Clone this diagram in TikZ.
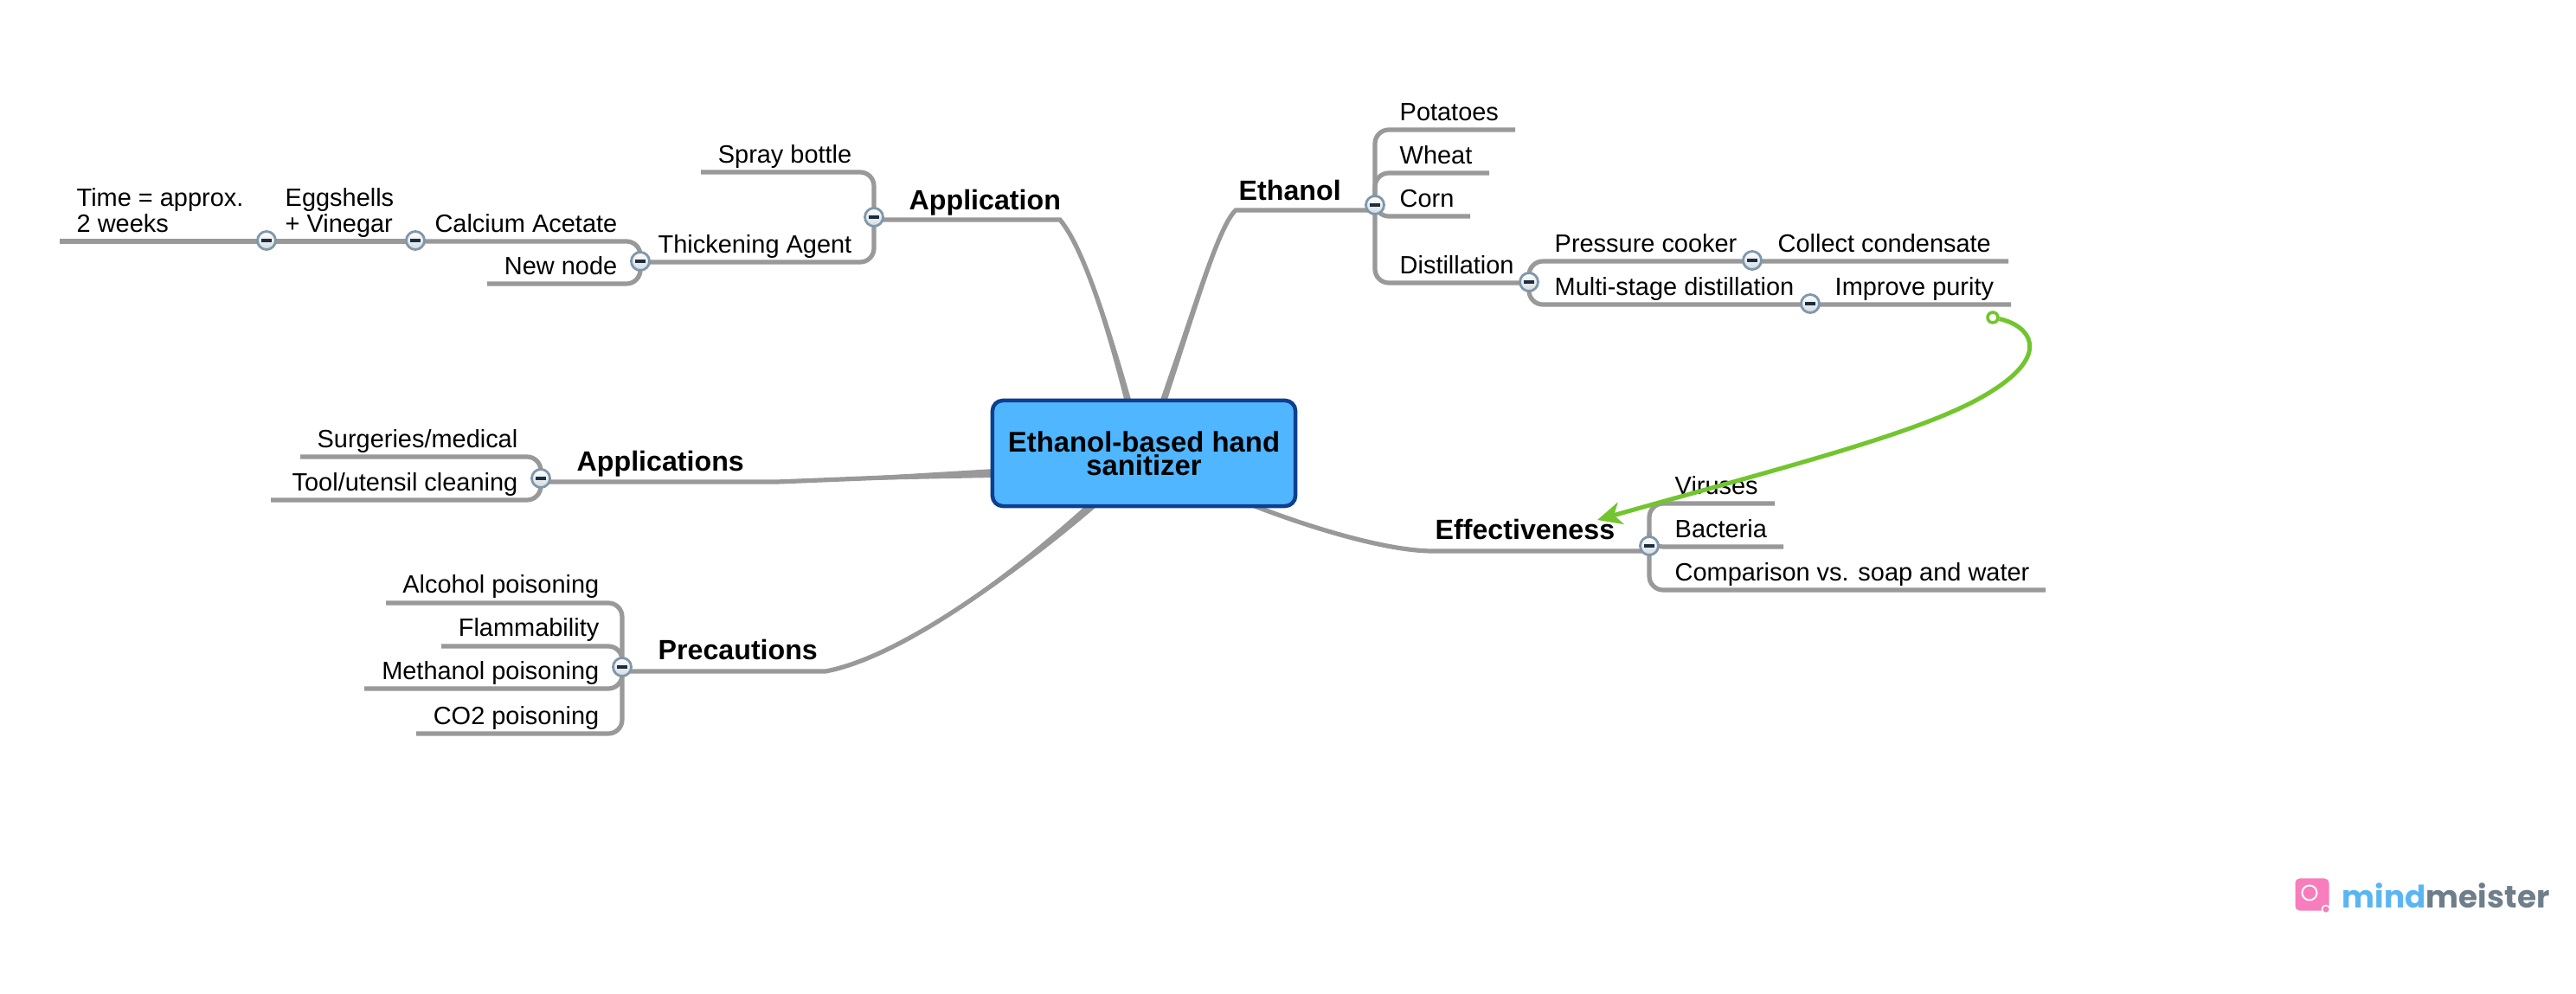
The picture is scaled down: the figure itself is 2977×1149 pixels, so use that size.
\documentclass[tikz,border=0pt]{standalone}
\usepackage{fontspec}
\setmainfont{Liberation Sans}
\newfontfamily\logofont{Poppins}
\usetikzlibrary{arrows.meta,backgrounds,calc}
\definecolor{rulegray}{HTML}{999999}
\definecolor{centerfill}{HTML}{4FB6FF}
\definecolor{centerline}{HTML}{0E3F8F}
\definecolor{linkgreen}{HTML}{72C52E}
\definecolor{togline}{HTML}{7F97AA}
\definecolor{togdark}{HTML}{1C2E3E}
\definecolor{logoblue}{HTML}{5AB6F2}
\definecolor{logogray}{HTML}{6E7E8A}
\definecolor{logopink}{HTML}{F77DBD}
\tikzset{
  x=0.01cm,y=-0.01cm,
  leafR/.style={inner sep=0pt,anchor=base west,font=\fontsize{8.23}{8.53}\selectfont,align=left},
  leafL/.style={inner sep=0pt,anchor=base east,font=\fontsize{8.23}{8.53}\selectfont},
  topicR/.style={inner sep=0pt,anchor=base west,font=\fontsize{9.15}{10}\selectfont\bfseries},
  rootbox/.style={draw=centerline,fill=centerfill,line width=0.045cm,rounded corners=0.12cm,
    minimum width=3.5cm,minimum height=1.22cm,inner sep=0pt,align=center,
    font=\fontsize{9.35}{7.7}\selectfont\bfseries},
  branch/.style={draw=rulegray,line width=0.052cm,rounded corners=0.16cm},
  wedge/.style={fill=rulegray,draw=none},
  toggle/.style={circle,draw=togline,line width=0.028cm,minimum size=0.21cm,inner sep=0pt,
    top color=white,bottom color=togline!35,
    path picture={\draw[togdark,line width=0.032cm]
      ([xshift=-0.06cm]path picture bounding box.center) -- ([xshift=0.06cm]path picture bounding box.center);}},
  crosslink/.style={draw=linkgreen,line width=0.05cm},
}
\begin{document}
\begin{tikzpicture}
% central node
\node[rootbox] (root) at (1322,524) {Ethanol-based hand\\sanitizer};
% topics
\node[topicR] (ethanol) at (1431,232) {Ethanol};
\node[topicR] (application) at (1050,243) {Application};
\node[topicR] (applications) at (666,545) {Applications};
\node[topicR] (precautions) at (760,763) {Precautions};
\node[topicR] (effectiveness) at (1658,624) {Effectiveness};
% toggles
\node[toggle] (tEth) at (1589,237) {};
\node[toggle] (tDis) at (1767,326) {};
\node[toggle] (tPre) at (2025,301) {};
\node[toggle] (tMul) at (2092,351) {};
\node[toggle] (tEff) at (1906,631) {};
\node[toggle] (tApn) at (1010,251) {};
\node[toggle] (tThi) at (740,302) {};
\node[toggle] (tCal) at (480,278) {};
\node[toggle] (tEgg) at (308,278) {};
\node[toggle] (tAps) at (625,553) {};
\node[toggle] (tPrc) at (719,771) {};
% leaves on the right
\node[leafR] (potatoes) at (1617,140) {Potatoes};
\node[leafR] (wheat) at (1617,190) {Wheat};
\node[leafR] (corn) at (1617,240) {Corn};
\node[leafR] (distillation) at (1617,317) {Distillation};
\node[leafR] (pressure) at (1796,292) {Pressure cooker};
\node[leafR] (collect) at (2054,292) {Collect condensate};
\node[leafR] (multi) at (1796,342) {Multi-stage distillation};
\node[leafR] (improve) at (2120,342) {Improve purity};
\node[leafR] (viruses) at (1935,572) {Viruses};
\node[leafR] (bacteria) at (1935,622) {Bacteria};
\node[leafR] (comparison) at (1935,672) {Comparison vs. soap and water};
% leaves on the left
\node[leafL] (spray) at (985,189) {Spray bottle};
\node[leafL] (thick) at (985,293) {Thickening Agent};
\node[leafL] (calcium) at (714,269) {Calcium Acetate};
\node[leafL] (newnode) at (714,318) {New node};
\node[leafR] (egg) at (329,269) {Eggshells\\+ Vinegar};
\node[leafR] (time) at (88,269) {Time = approx.\\2 weeks};
\node[leafL] (surgeries) at (599,518) {Surgeries/medical};
\node[leafL] (tool) at (599,568) {Tool/utensil cleaning};
\node[leafL] (alcohol) at (693,686) {Alcohol poisoning};
\node[leafL] (flamm) at (693,736) {Flammability};
\node[leafL] (methanol) at (693,786) {Methanol poisoning};
\node[leafL] (co2) at (693,838) {CO2 poisoning};
% rule ends
\coordinate (ePot) at (1751,150);
\coordinate (eWhe) at (1721,200);
\coordinate (eCor) at (1699,250);
\coordinate (jDis) at (1767,327);
\coordinate (jPre) at (2025,302);
\coordinate (ePre) at (2321,302);
\coordinate (jMul) at (2092,352);
\coordinate (eMul) at (2324,352);
\coordinate (eVir) at (2051,582);
\coordinate (eBac) at (2061,632);
\coordinate (eCom) at (2364,682);
\coordinate (jEff) at (1906,637);
\coordinate (aEff) at (1656,637);
\coordinate (jEth) at (1589,243);
\coordinate (aEth) at (1428,243);
\coordinate (jApn) at (1010,254);
\coordinate (aApn) at (1225,254);
\coordinate (eSpr) at (810,199);
\coordinate (jThi) at (740,303);
\coordinate (jCal) at (480,279);
\coordinate (jEgg) at (308,279);
\coordinate (eTim) at (69,279);
\coordinate (eNew) at (563,328);
\coordinate (eSur) at (347,528);
\coordinate (eToo) at (313,578);
\coordinate (jAps) at (625,557);
\coordinate (aAps) at (898,557);
\coordinate (eAlc) at (446,697);
\coordinate (eFla) at (510,747);
\coordinate (eMet) at (421,796);
\coordinate (eCo2) at (481,848);
\coordinate (jPrc) at (719,776);
\coordinate (aPrc) at (954,776);
% link ends on the central box
\coordinate (rEth) at (1344,465);
\coordinate (rApn) at (1304,465);
\coordinate (rEff) at (1450,585);
\coordinate (rPrc) at (1261,585);
\coordinate (rAps) at (1149,547);
\begin{scope}[on background layer]
  \path[use as bounding box,fill=white] (0,0) rectangle (2977,1149);
  % main links
  \fill[wedge] ([xshift=-0.04cm]rEth) .. controls (1383,340) and (1410,260) .. (aEth) .. controls (1412,262) and (1388,342) .. ([xshift=0.04cm]rEth) -- cycle;
  \draw[branch,rounded corners=0pt] (rEth) .. controls (1385,340) and (1410,260) .. (aEth) -- (jEth);
  \fill[wedge] ([xshift=-0.04cm]rApn) .. controls (1282,395) and (1253,290) .. (aApn) .. controls (1257,290) and (1288,395) .. ([xshift=0.04cm]rApn) -- cycle;
  \draw[branch,rounded corners=0pt] (rApn) .. controls (1285,395) and (1255,290) .. (aApn) -- (jApn);
  \draw[branch,rounded corners=0pt] (rEff) .. controls (1520,612) and (1605,637) .. (aEff) -- (jEff);
  \fill[wedge] ([xshift=-0.07cm]rPrc) .. controls (1167,663) and (1040,760) .. (aPrc) .. controls (1040,760) and (1173,667) .. ([xshift=0.07cm]rPrc) -- cycle;
  \draw[branch,rounded corners=0pt] (rPrc) .. controls (1170,665) and (1040,760) .. (aPrc) -- (jPrc);
  \fill[wedge] ([yshift=0.05cm]rAps) -- (aAps) -- ([yshift=-0.05cm]rAps) -- cycle;
  \draw[branch,rounded corners=0pt] (rAps) -- (aAps) -- (jAps);
  % sub-branches
  \foreach \t/\e in {tEth/ePot,tEth/eWhe,tEth/eCor,tEth/jDis,
                     tDis/ePre,tDis/eMul,
                     tEff/eVir,tEff/eBac,tEff/eCom,
                     tApn/eSpr,tApn/jThi,
                     tThi/jCal,tThi/eNew,
                     tAps/eSur,tAps/eToo,
                     tPrc/eAlc,tPrc/eFla,tPrc/eMet,tPrc/eCo2}
    {\draw[branch] (\t.center) -- (\t.center |- \e) -- (\e);}
  \draw[branch] (jCal) -- (jEgg) -- (eTim);
\end{scope}
% cross link
\node[circle,draw=linkgreen,fill=white,line width=0.035cm,minimum size=0.12cm,inner sep=0pt] (gs) at (2303,367) {};
\coordinate (gt) at (1846,601);
\coordinate (gm) at (2302,452);
\draw[crosslink,-{Stealth[length=0.28cm,width=0.26cm,inset=0.08cm]}] (gs) .. controls (2345,376) and (2372,408) .. (gm) .. controls (2232,497) and (2080,535) .. (gt);
% logo
\node[fill=logopink,rounded corners=0.05cm,minimum width=0.39cm,minimum height=0.37cm,inner sep=0pt] (logoicon) at (2672,1034) {};
\node[circle,draw=white,line width=0.02cm,minimum size=0.17cm,inner sep=0pt] (logoswirl) at (2669,1032) {};
\node[circle,fill=logopink,draw=white,line width=0.015cm,minimum size=0.09cm,inner sep=0pt] (logodot) at (2688,1051) {};
\node[inner sep=0pt,anchor=base west,font=\logofont\bfseries\fontsize{10.2}{11}\selectfont] (logotext) at (2706,1049) {\textcolor{logoblue}{mind}\textcolor{logogray}{meister}};
\end{tikzpicture}
\end{document}
